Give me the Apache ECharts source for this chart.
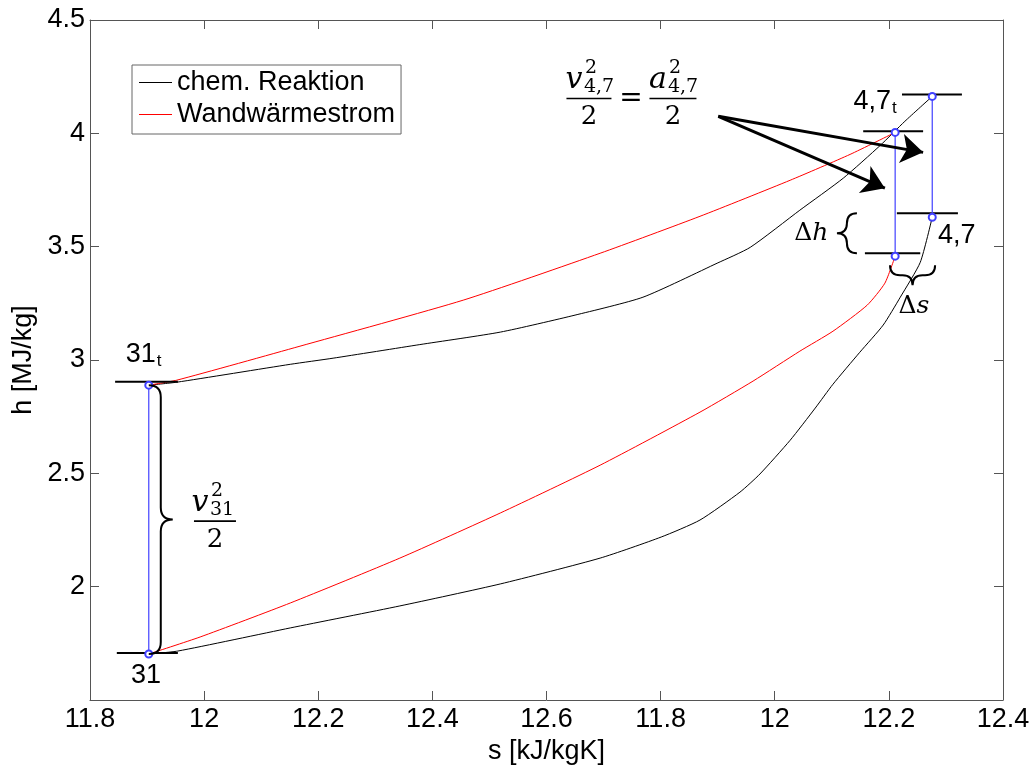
<!DOCTYPE html>
<html>
<head>
<meta charset="utf-8">
<script src="https://cdn.jsdelivr.net/npm/echarts@6/dist/echarts.min.js"></script>
<style>
  html, body { margin: 0; padding: 0; background: #fff; }
  #chart { width: 1035px; height: 765px; }
</style>
</head>
<body>
<div id="chart"></div>
<script>
// tick labels as printed on the s axis (the axis itself runs 11.8 .. 13.4)
const xTickLabels = ["11.8", "12", "12.2", "12.4", "12.6", "11.8", "12", "12.2", "12.4"];

// [s, h] points
const chemUpper = [[11.903, 2.889], [11.952, 2.902], [12.151, 2.981], [12.226, 3.008], [12.378, 3.068],
  [12.519, 3.123], [12.650, 3.198], [12.769, 3.277], [12.899, 3.427], [12.957, 3.497], [13.044, 3.661],
  [13.120, 3.802], [13.185, 3.947], [13.228, 4.053], [13.276, 4.163]];
const chemLower = [[11.903, 1.703], [11.954, 1.716], [12.151, 1.818], [12.343, 1.915], [12.519, 2.012],
  [12.694, 2.126], [12.801, 2.219], [12.869, 2.294], [12.939, 2.417], [12.974, 2.497], [13.027, 2.646],
  [13.071, 2.788], [13.102, 2.893], [13.149, 3.034], [13.190, 3.154], [13.220, 3.277], [13.255, 3.431],
  [13.276, 3.630]];
const wallUpper = [[11.903, 2.889], [11.952, 2.911], [12.168, 3.061], [12.454, 3.264], [12.694, 3.471],
  [12.869, 3.634], [13.027, 3.793], [13.132, 3.907], [13.211, 4.004]];
const wallLower = [[11.903, 1.703], [11.993, 1.778], [12.151, 1.928], [12.343, 2.126], [12.519, 2.325],
  [12.694, 2.536], [12.869, 2.770], [12.962, 2.907], [13.044, 3.039], [13.102, 3.127], [13.162, 3.242],
  [13.193, 3.339], [13.211, 3.458]];

// static -> total state, [s, hStatic, hTotal]
const stagnation = [[11.903, 1.703, 2.889], [13.211, 3.458, 4.004], [13.276, 3.630, 4.163]];
// short level marks, [sFrom, sTo, h]
const levelMarks = [[11.844, 11.954, 2.904], [11.847, 11.954, 1.707], [13.223, 13.328, 4.171],
  [13.155, 13.260, 4.009], [13.214, 13.321, 3.647], [13.158, 13.255, 3.471]];

// annotations
const braces = [[11.903, 2.889, 11.903, 1.703], [13.144, 3.647, 13.144, 3.471], [13.202, 3.418, 13.281, 3.418]];
const braceDir = ["right", "left", "down"];
const braceDepth = [12, 10, 10];
const arrows = [[12.901, 4.075, 13.260, 3.916], [12.901, 4.075, 13.193, 3.758]];
const formulaAnchors = [[12.019, 2.289], [12.748, 4.154]];
const pointLabelPos = [[11.889, 3.026], [11.898, 1.610], [13.171, 4.141], [13.319, 3.550]];
const pointLabelText = ["31", "31", "4,7", "4,7"];
const pointLabelSub = ["t", "", "t", ""];
const deltaPos = [[13.064, 3.559], [13.244, 3.237]];
const deltaVar = ["h", "s"];

const SANS = '"Liberation Sans", Arial, sans-serif';
const SERIF = '"DejaVu Serif", serif';
const measureCtx = document.createElement("canvas").getContext("2d");

function bracePath(p1, p2, dir, r) {
  if (dir === "down") {
    const y = p1[1];
    const xL = Math.min(p1[0], p2[0]);
    const xR = Math.max(p1[0], p2[0]);
    const xm = (xL + xR) / 2;
    const ys = y + r;
    const yt = y + 2 * r;
    return `M${xL},${y} Q${xL},${ys} ${xL + r},${ys} L${xm - r},${ys} Q${xm},${ys} ${xm},${yt} ` +
      `Q${xm},${ys} ${xm + r},${ys} L${xR - r},${ys} Q${xR},${ys} ${xR},${y}`;
  }
  const s = dir === "right" ? 1 : -1;
  const x = p1[0];
  const yT = Math.min(p1[1], p2[1]);
  const yB = Math.max(p1[1], p2[1]);
  const ym = (yT + yB) / 2;
  const xs = x + s * r;
  const xt = x + 2 * s * r;
  return `M${x},${yT} Q${xs},${yT} ${xs},${yT + r} L${xs},${ym - r} Q${xs},${ym} ${xt},${ym} ` +
    `Q${xs},${ym} ${xs},${ym + r} L${xs},${yB - r} Q${xs},${yB} ${x},${yB}`;
}

function mathText(x, y, text, size, italic, align) {
  return {
    type: "text", x: x, y: y,
    style: {
      text: text, fill: "#000", align: align || "center", verticalAlign: "middle",
      font: (italic ? "italic " : "") + size + "px " + SERIF
    }
  };
}

// v^2_sub / 2 laid out around the fraction bar centre
function fraction(cx, cy, letter, sub, half) {
  return [
    mathText(cx - 15, cy - 18, letter, 30, true),
    mathText(cx - 4, cy - 30, "2", 19, false, "left"),
    mathText(cx - 5, cy - 11, sub, 19, false, "left"),
    { type: "rect", shape: { x: cx - half, y: cy - 0.8, width: half * 2, height: 1.6 }, style: { fill: "#000" } },
    mathText(cx, cy + 19, "2", 26, false)
  ];
}

const chart = echarts.init(document.getElementById("chart"), null, { renderer: "canvas" });

const lineBase = { type: "line", showSymbol: false, smooth: 0.2, silent: true };

const option = {
  animation: false,
  backgroundColor: "#fff",
  grid: { left: 90, right: 32, top: 20, bottom: 65, outerBoundsMode: "none" },
  legend: {
    data: ["chem. Reaktion", "Wandwärmestrom"],
    left: 132, top: 65, orient: "vertical",
    backgroundColor: "#fff", borderColor: "#666", borderWidth: 1, borderRadius: 0,
    padding: [4, 6, 6, 7], itemGap: 5, itemWidth: 33, itemHeight: 1, icon: "rect",
    selectedMode: false,
    textStyle: { fontFamily: SANS, fontSize: 27, color: "#000" }
  },
  xAxis: [
    {
      type: "value", min: 11.8, max: 13.4, interval: 0.2, position: "bottom",
      name: "s [kJ/kgK]", nameLocation: "middle", nameGap: 28,
      nameTextStyle: { fontFamily: SANS, fontSize: 27, color: "#000" },
      axisLine: { onZero: false, lineStyle: { color: "#555" } },
      axisTick: { inside: true, length: 9, lineStyle: { color: "#555" } },
      axisLabel: {
        fontFamily: SANS, fontSize: 27, color: "#000", margin: 6,
        formatter: (v) => xTickLabels[Math.round((v - 11.8) / 0.2)]
      },
      splitLine: { show: false }
    },
    {
      type: "value", min: 11.8, max: 13.4, interval: 0.2, position: "top",
      axisLine: { onZero: false, lineStyle: { color: "#555" } },
      axisTick: { inside: true, length: 9, lineStyle: { color: "#555" } },
      axisLabel: { show: false }, splitLine: { show: false }
    }
  ],
  yAxis: [
    {
      type: "value", min: 1.5, max: 4.5, interval: 0.5, position: "left",
      name: "h [MJ/kg]", nameLocation: "middle", nameGap: 50,
      nameTextStyle: { fontFamily: SANS, fontSize: 27, color: "#000" },
      axisLine: { show: true, onZero: false, lineStyle: { color: "#555" } },
      axisTick: { show: true, inside: true, length: 9, lineStyle: { color: "#555" } },
      axisLabel: { fontFamily: SANS, fontSize: 27, color: "#000", margin: 5, showMinLabel: false },
      splitLine: { show: false }
    },
    {
      type: "value", min: 1.5, max: 4.5, interval: 0.5, position: "right",
      axisLine: { show: true, onZero: false, lineStyle: { color: "#555" } },
      axisTick: { show: true, inside: true, length: 9, lineStyle: { color: "#555" } },
      axisLabel: { show: false }, splitLine: { show: false }
    }
  ],
  series: []
};

option.series.push(
  { ...lineBase, name: "chem. Reaktion", data: chemUpper, lineStyle: { color: "#000", width: 1 }, itemStyle: { color: "#000" } },
  { ...lineBase, name: "chem. Reaktion", data: chemLower, lineStyle: { color: "#000", width: 1 }, itemStyle: { color: "#000" } },
  { ...lineBase, name: "Wandwärmestrom", data: wallUpper, lineStyle: { color: "#ff0000", width: 1 }, itemStyle: { color: "#ff0000" } },
  { ...lineBase, name: "Wandwärmestrom", data: wallLower, lineStyle: { color: "#ff0000", width: 1 }, itemStyle: { color: "#ff0000" } }
);

levelMarks.forEach((m) => {
  option.series.push({
    type: "line", silent: true, showSymbol: false, z: 3,
    data: [[m[0], m[2]], [m[1], m[2]]],
    lineStyle: { color: "#000", width: 2 }
  });
});

stagnation.forEach((p) => {
  option.series.push({
    type: "line", silent: true, z: 4,
    data: [[p[0], p[1]], [p[0], p[2]]],
    symbol: "emptyCircle", symbolSize: 7, showSymbol: true,
    lineStyle: { color: "#4040ff", width: 1.2 },
    itemStyle: { color: "#4040ff", borderColor: "#4040ff", borderWidth: 1 }
  });
});

option.series.push({
  type: "custom", silent: true, z: 5,
  data: braces,
  encode: { x: [0, 2], y: [1, 3] },
  renderItem: (params, api) => {
    const i = params.dataIndex;
    const p1 = api.coord([api.value(0), api.value(1)]);
    const p2 = api.coord([api.value(2), api.value(3)]);
    return {
      type: "path",
      shape: { pathData: bracePath(p1, p2, braceDir[i], braceDepth[i]) },
      style: { stroke: "#000", fill: null, lineWidth: 2 }
    };
  }
});

option.series.push({
  type: "lines", coordinateSystem: "cartesian2d", silent: true, z: 5,
  symbol: ["none", "arrow"], symbolSize: 22,
  lineStyle: { color: "#000", width: 3, opacity: 1, curveness: 0 },
  data: arrows.map((a) => ({ coords: [[a[0], a[1]], [a[2], a[3]]] }))
});

option.series.push({
  type: "custom", silent: true, z: 6,
  data: formulaAnchors,
  encode: { x: 0, y: 1 },
  renderItem: (params, api) => {
    const c = api.coord([api.value(0), api.value(1)]);
    let children;
    if (params.dataIndex === 0) {
      children = fraction(c[0], c[1], "v", "31", 21);
    } else {
      children = fraction(c[0] - 42, c[1], "v", "4,7", 22.5)
        .concat([mathText(c[0], c[1], "=", 28, false)])
        .concat(fraction(c[0] + 42, c[1], "a", "4,7", 23.5));
    }
    return { type: "group", children: children };
  }
});

option.series.push({
  type: "custom", silent: true, z: 6,
  data: pointLabelPos,
  encode: { x: 0, y: 1 },
  renderItem: (params, api) => {
    const i = params.dataIndex;
    const c = api.coord([api.value(0), api.value(1)]);
    const font = "27px " + SANS;
    measureCtx.font = font;
    const w = measureCtx.measureText(pointLabelText[i]).width;
    const children = [{
      type: "text", x: c[0], y: c[1],
      style: { text: pointLabelText[i], font: font, fill: "#000", align: "center", verticalAlign: "middle" }
    }];
    if (pointLabelSub[i]) {
      children.push({
        type: "text", x: c[0] + w / 2 + 1, y: c[1] + 7,
        style: { text: pointLabelSub[i], font: "17px " + SANS, fill: "#000", align: "left", verticalAlign: "middle" }
      });
    }
    return { type: "group", children: children };
  }
});

option.series.push({
  type: "custom", silent: true, z: 6,
  data: deltaPos,
  encode: { x: 0, y: 1 },
  renderItem: (params, api) => {
    const c = api.coord([api.value(0), api.value(1)]);
    return {
      type: "text", x: c[0], y: c[1],
      style: {
        text: "{u|Δ}{i|" + deltaVar[params.dataIndex] + "}",
        align: "center", verticalAlign: "middle",
        rich: {
          u: { font: "25px " + SERIF, fill: "#000" },
          i: { font: "italic 25px " + SERIF, fill: "#000" }
        }
      }
    };
  }
});

chart.setOption(option);
</script>
</body>
</html>
